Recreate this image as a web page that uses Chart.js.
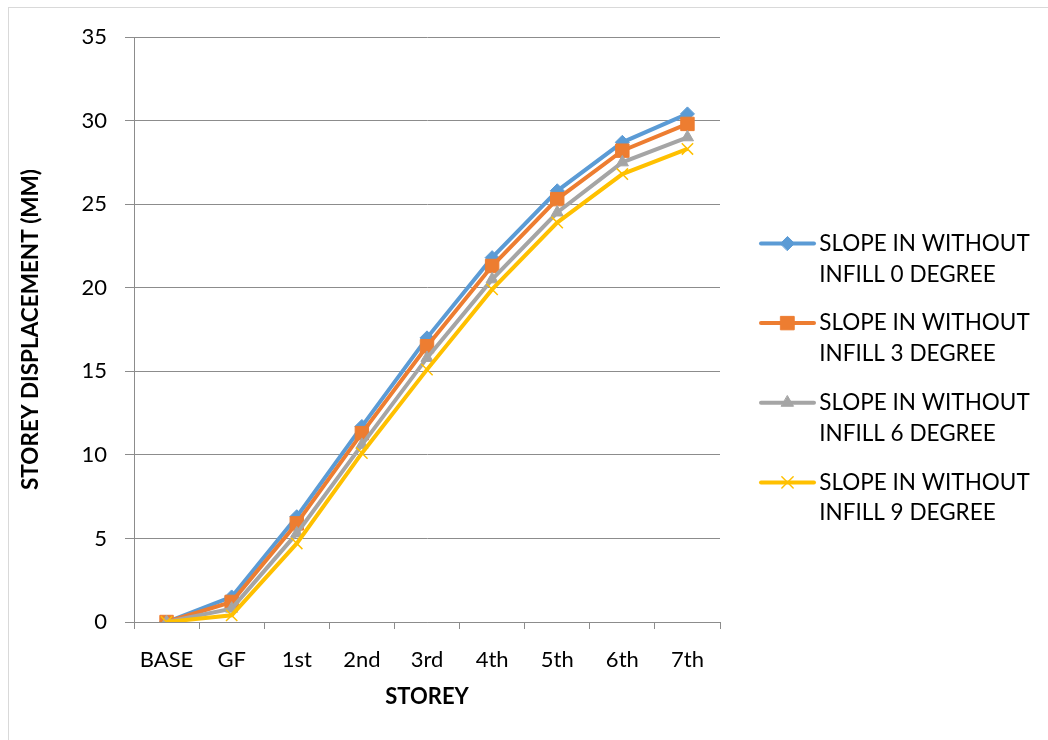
<!DOCTYPE html>
<html>
<head>
<meta charset="utf-8">
<script src="https://cdn.jsdelivr.net/npm/chart.js@4.4.1/dist/chart.umd.min.js"></script>
<style>
  html, body { margin: 0; padding: 0; background: #fff; overflow: hidden; }
  #frame { position: absolute; left: 8px; top: 7px; width: 1100px; height: 800px; border: 1px solid #d9d9d9; }
  #wrap { position: absolute; left: 0; top: 0; width: 1048px; height: 740px; }
</style>
</head>
<body>
<div id="frame"></div>
<div id="wrap"><canvas id="storey-chart" width="1048" height="740"></canvas></div>
<script>
const storeys = ['BASE', 'GF', '1st', '2nd', '3rd', '4th', '5th', '6th', '7th'];

// storey displacement in mm
const slope0 = [0, 1.5, 6.3, 11.7, 17.0, 21.8, 25.8, 28.7, 30.4];
const slope3 = [0, 1.2, 5.9, 11.3, 16.5, 21.3, 25.3, 28.2, 29.8];
const slope6 = [0, 0.8, 5.3, 10.6, 15.8, 20.5, 24.5, 27.5, 29.0];
const slope9 = [0, 0.4, 4.7, 10.1, 15.1, 19.9, 23.9, 26.8, 28.3];

const seriesNames = [
    ['SLOPE IN WITHOUT', 'INFILL 0 DEGREE'],
    ['SLOPE IN WITHOUT', 'INFILL 3 DEGREE'],
    ['SLOPE IN WITHOUT', 'INFILL 6 DEGREE'],
    ['SLOPE IN WITHOUT', 'INFILL 9 DEGREE']
];

const FONT = 'Lato, "Liberation Sans", sans-serif';
const AXIS_GREY = '#8c8c8c';
const LEGEND_WIDTH = 328;
const LEGEND_FONT = { family: FONT, size: 22.5, lineHeight: 1.37 };

function series(i, data, color, style, radius, order) {
    return {
        label: seriesNames[i].join(' '),
        data,
        borderColor: color,
        backgroundColor: color,
        borderWidth: 4,
        tension: 0,
        pointStyle: style,
        pointRadius: radius,
        pointHoverRadius: radius,
        pointBorderWidth: style === 'crossRot' ? 1.5 : 1,
        pointBorderColor: color,
        pointBackgroundColor: color,
        order
    };
}

const datasets = [
    series(0, slope0, '#5b9bd5', 'rectRot', 7, 4),
    series(1, slope3, '#ed7d31', 'rect', 9.5, 3),
    series(2, slope6, '#a5a5a5', 'triangle', 7, 2),
    series(3, slope9, '#ffc000', 'crossRot', 8, 1)
];

// legend: fixed width, and an Excel-style line sample with the marker in the middle
const legendSamples = {
    id: 'legendSamples',
    beforeInit(chart) {
        const legend = chart.legend;
        const fit = legend.fit;
        legend.fit = function () {
            fit.call(this);
            this.width = LEGEND_WIDTH;
        };
    },
    afterDraw(chart) {
        const legend = chart.legend;
        const ctx = chart.ctx;
        legend.legendItems.forEach((item, i) => {
            const hb = legend.legendHitBoxes[i];
            const ds = chart.data.datasets[item.datasetIndex];
            const y = hb.top + LEGEND_FONT.size / 2;
            const x0 = hb.left + 23;
            const x1 = hb.left + 76;
            ctx.save();
            ctx.beginPath();
            ctx.moveTo(x0, y);
            ctx.lineTo(x1, y);
            ctx.lineWidth = ds.borderWidth;
            ctx.strokeStyle = ds.borderColor;
            ctx.lineCap = 'round';
            ctx.stroke();
            ctx.fillStyle = ds.pointBackgroundColor;
            ctx.strokeStyle = ds.pointBorderColor;
            ctx.lineWidth = ds.pointBorderWidth;
            Chart.helpers.drawPoint(ctx, {
                pointStyle: ds.pointStyle,
                radius: ds.pointRadius,
                borderWidth: ds.pointBorderWidth,
                rotation: 0
            }, (x0 + x1) / 2, y);
            ctx.restore();
        });
    }
};

const ctx = document.getElementById('storey-chart').getContext('2d');
new Chart(ctx, {
    type: 'line',
    data: { labels: storeys, datasets },
    options: {
        responsive: false,
        animation: false,
        layout: { padding: { left: 10, top: 37, right: 0, bottom: 12 } },
        scales: {
            x: {
                offset: true,
                grid: { offset: true, drawOnChartArea: false, tickLength: 7, color: AXIS_GREY },
                border: { color: AXIS_GREY },
                ticks: { color: '#000', padding: 18, maxRotation: 0, font: { family: FONT, size: 22 } },
                title: {
                    display: true, text: 'STOREY', color: '#000',
                    font: { family: FONT, size: 22, weight: 'bold' },
                    padding: { top: 0, bottom: 18 }
                },
                afterFit(scale) { scale.height = 106; }
            },
            y: {
                min: 0,
                max: 35,
                grid: { color: AXIS_GREY, tickLength: 9 },
                border: { color: AXIS_GREY },
                ticks: { stepSize: 5, color: '#000', padding: 18, font: { family: FONT, size: 22 } },
                title: {
                    display: true, text: 'STOREY DISPLACEMENT (MM)', color: '#000',
                    font: { family: FONT, size: 22.5, weight: 'bold' },
                    padding: { top: 7.5, bottom: 0 }
                },
                afterFit(scale) { scale.width = 124; }
            }
        },
        plugins: {
            tooltip: { enabled: false },
            legend: {
                position: 'right',
                align: 'center',
                labels: {
                    color: '#000',
                    font: LEGEND_FONT,
                    boxWidth: 70,
                    boxHeight: 2,
                    padding: 18,
                    sort: (a, b) => a.datasetIndex - b.datasetIndex,
                    generateLabels(chart) {
                        return chart.data.datasets.map((ds, i) => ({
                            text: seriesNames[i],
                            datasetIndex: i,
                            fillStyle: 'rgba(0,0,0,0)',
                            strokeStyle: 'rgba(0,0,0,0)',
                            lineWidth: 0,
                            fontColor: '#000',
                            hidden: false
                        }));
                    }
                }
            }
        }
    },
    plugins: [legendSamples]
});
</script>
</body>
</html>
